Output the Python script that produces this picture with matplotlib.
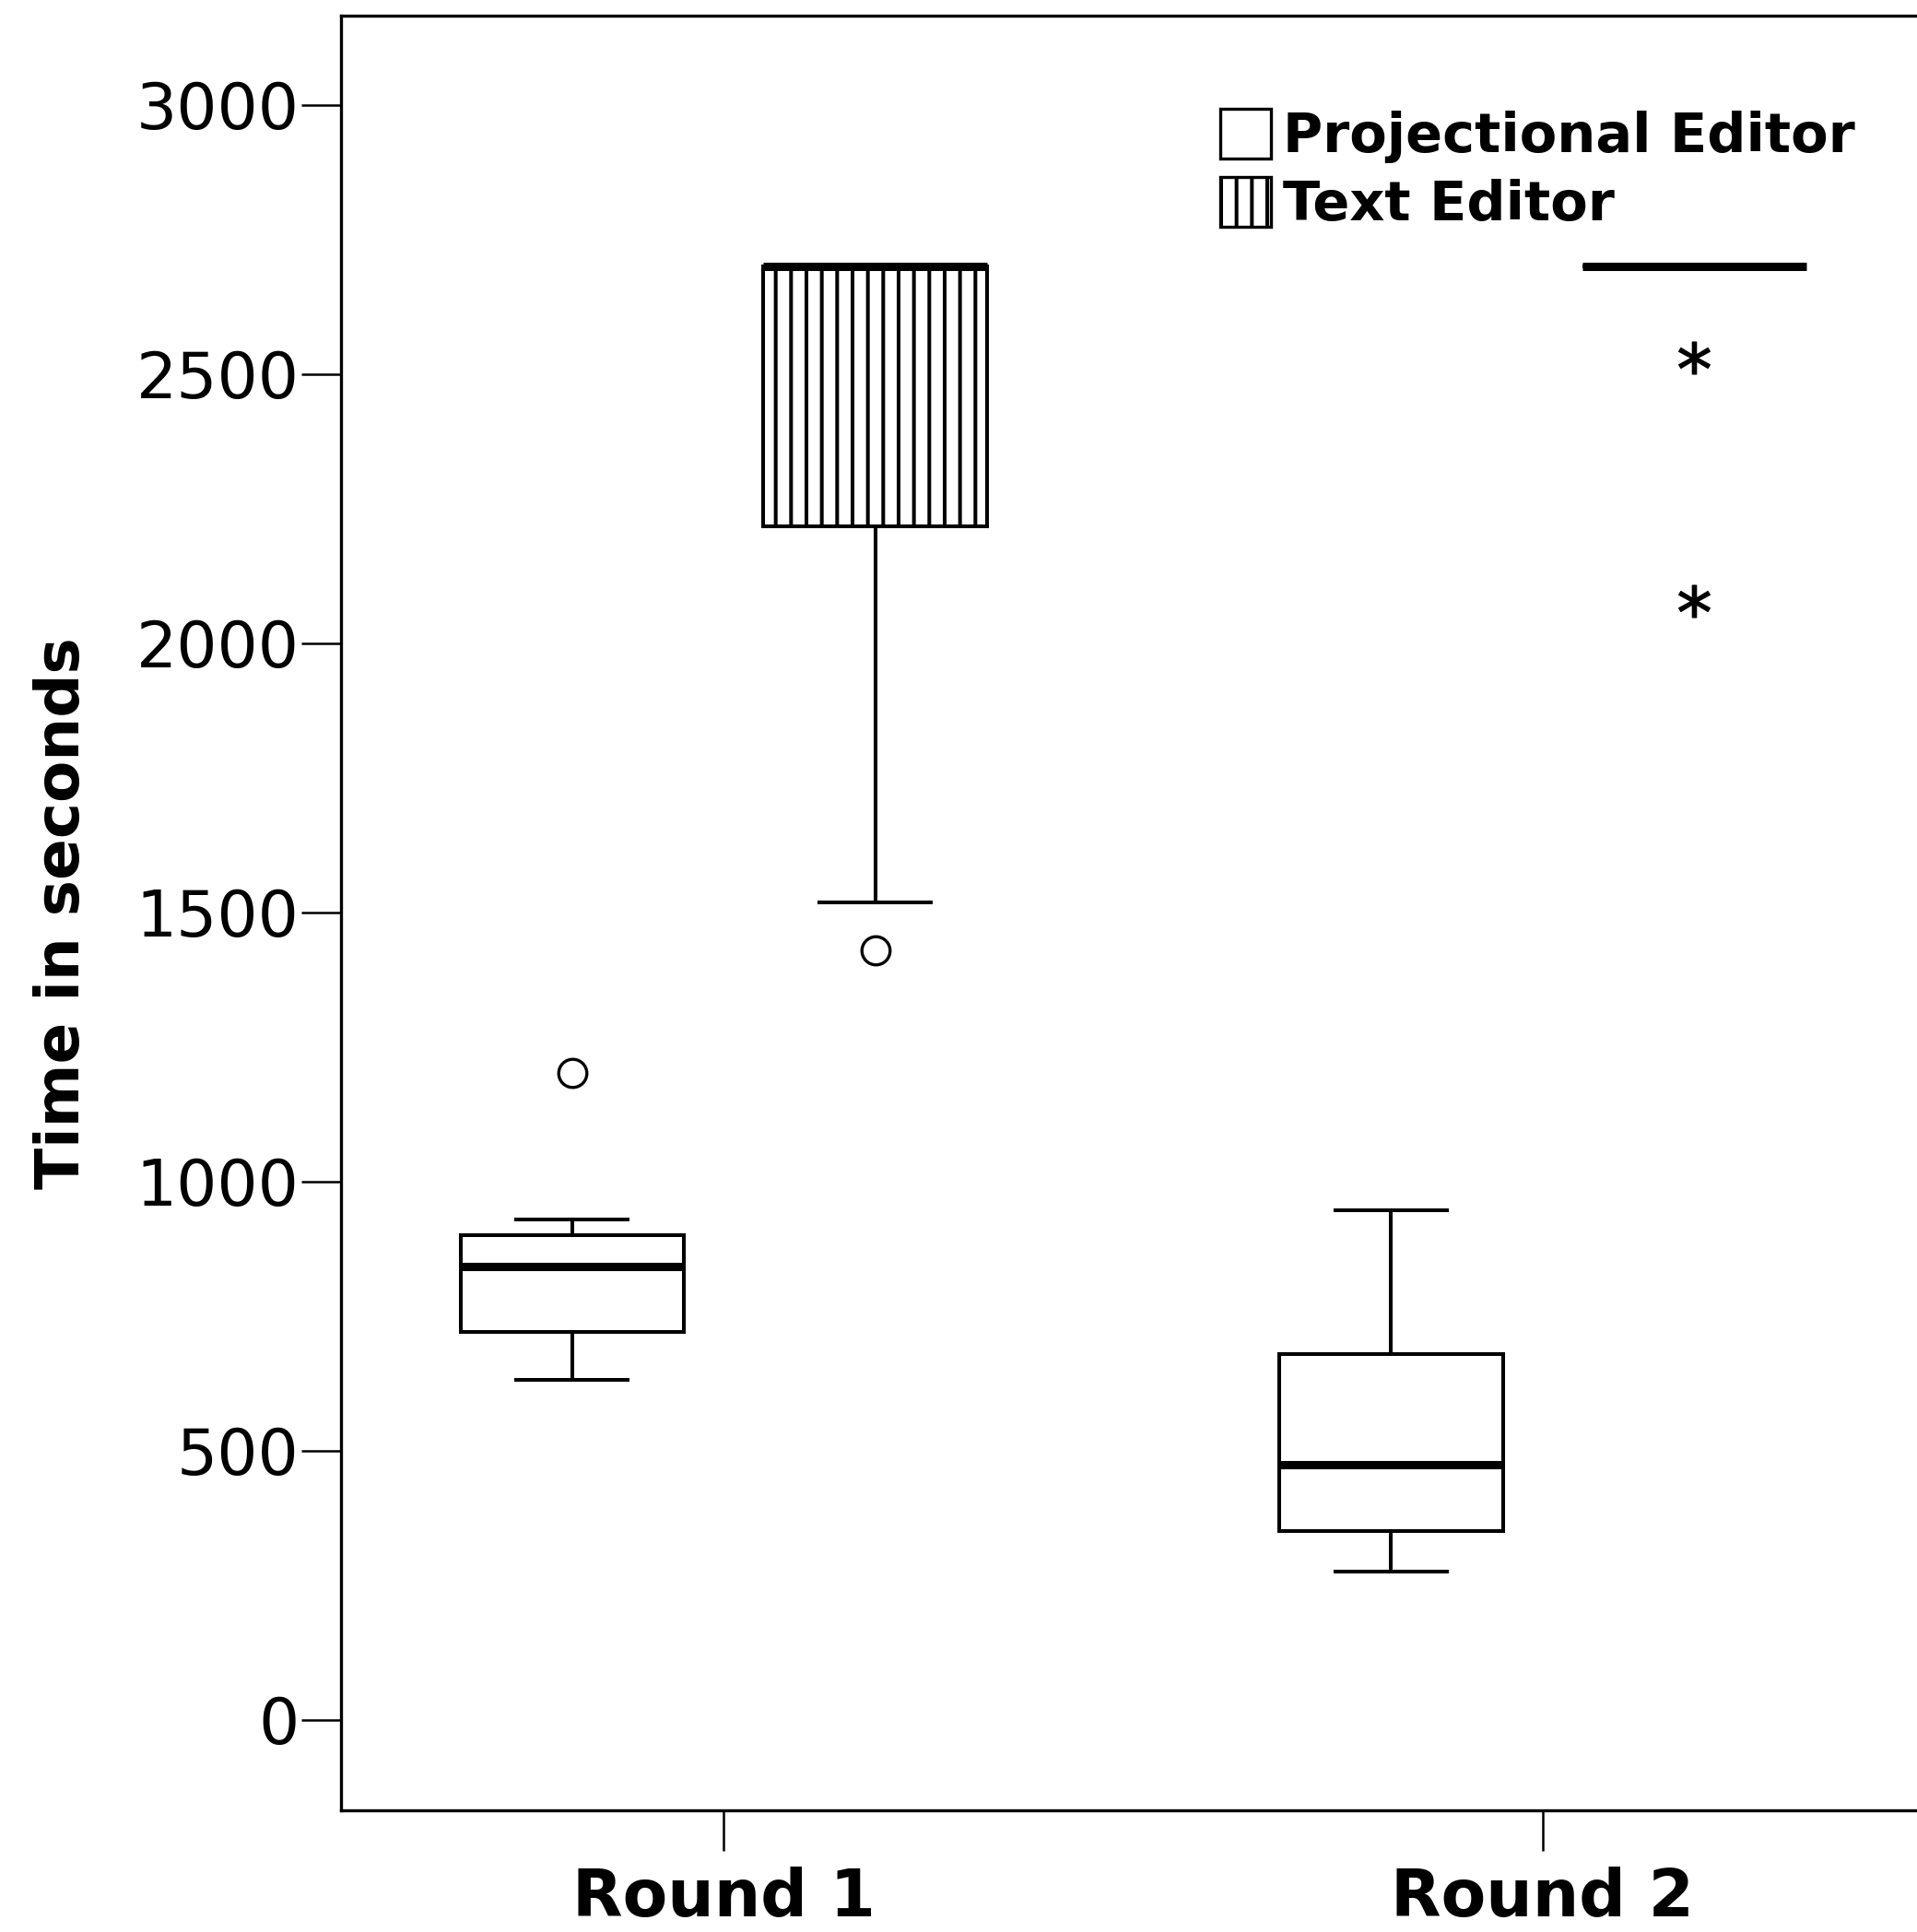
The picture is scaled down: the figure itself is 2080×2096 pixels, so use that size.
import numpy as np
import matplotlib.pyplot as plt
from matplotlib.patches import Patch

rounds = ['Round 1', 'Round 2']
editors = ['Projectional Editor', 'Text Editor']

# box stats (seconds): projectional then text, per round
proj_q1 = [721, 350]
proj_med = [842, 474]
proj_q3 = [900, 680]
proj_lo = [632, 275]
proj_hi = [929, 947]

text_q1 = [2217, 2700]
text_med = [2700, 2700]
text_q3 = [2700, 2700]
text_lo = [1519, 2700]
text_hi = [2700, 2700]

# outliers: (round index, editor index, value)
mild_out = [(0, 0, 1201), (0, 1, 1430)]
extreme_out = [(1, 1, 2531), (1, 1, 2078)]

plt.rcParams['hatch.linewidth'] = 2.9

fig = plt.figure(figsize=(20.8, 20.96), dpi=100)
ax = fig.add_axes([0.178, 0.063, 0.822, 0.929])

offset = 0.185
width = 0.273
x = np.arange(len(rounds))

boxprops = dict(linewidth=2.9, edgecolor='black')
medianprops = dict(color='black', linewidth=6.5)
whiskerprops = dict(color='black', linewidth=2.9)
capprops = dict(color='black', linewidth=2.9)

proj_stats = [dict(q1=proj_q1[i], med=proj_med[i], q3=proj_q3[i],
                   whislo=proj_lo[i], whishi=proj_hi[i], fliers=[])
              for i in range(len(rounds))]
text_stats = [dict(q1=text_q1[i], med=text_med[i], q3=text_q3[i],
                   whislo=text_lo[i], whishi=text_hi[i], fliers=[])
              for i in range(len(rounds))]

b1 = ax.bxp(proj_stats, positions=x - offset, widths=width, capwidths=width / 2,
            patch_artist=True, showfliers=False, boxprops=boxprops,
            medianprops=medianprops, whiskerprops=whiskerprops, capprops=capprops,
            manage_ticks=False)
b2 = ax.bxp(text_stats, positions=x + offset, widths=width, capwidths=width / 2,
            patch_artist=True, showfliers=False, boxprops=boxprops,
            medianprops=medianprops, whiskerprops=whiskerprops, capprops=capprops,
            manage_ticks=False)
for p in b1['boxes']:
    p.set_facecolor('white')
for p in b2['boxes']:
    p.set_facecolor('white')
    p.set_hatch('|')

for r, e, v in mild_out:
    pos = x[r] - offset if e == 0 else x[r] + offset
    ax.plot(pos, v, marker='o', markersize=22, markerfacecolor='white',
            markeredgecolor='black', markeredgewidth=2.4, linestyle='none')
for r, e, v in extreme_out:
    pos = x[r] - offset if e == 0 else x[r] + offset
    ax.plot(pos, v, marker='$*$', markersize=25, color='black', linestyle='none')

ax.set_xlim(-0.467, 1.457)
ax.set_ylim(-168, 3166)
ax.set_xticks(x)
ax.set_xticklabels(rounds, fontsize=51, fontweight='bold')
ax.set_yticks(np.arange(0, 3001, 500))
ax.tick_params(axis='y', labelsize=50, length=31, width=1.8, pad=2)
ax.tick_params(axis='x', length=32, width=1.8, pad=12)
ax.set_ylabel('Time in seconds', fontsize=47.5, fontweight='bold', labelpad=34)

for s in ['left', 'bottom', 'top']:
    ax.spines[s].set_linewidth(2.4)
ax.spines['right'].set_visible(False)

handles = [Patch(facecolor='white', edgecolor='black', linewidth=2.4),
           Patch(facecolor='white', edgecolor='black', linewidth=2.4, hatch='|')]
ax.legend(handles, editors, loc='upper left', bbox_to_anchor=(0.544, 0.960),
          frameon=False, prop=dict(size=42.5, weight='bold'),
          handlelength=0.93, handleheight=1.02, handletextpad=0.22,
          labelspacing=0.25, borderaxespad=0)

fig.savefig('out.png')
